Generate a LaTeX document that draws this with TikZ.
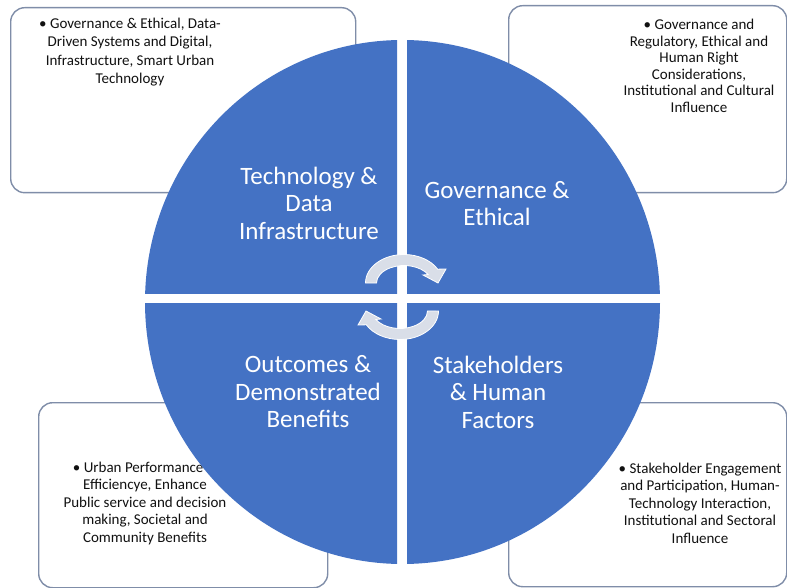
\documentclass[tikz,border=0pt]{standalone}
\usepackage{fontspec}
\setmainfont{Carlito}
\definecolor{quadblue}{HTML}{4472C4}
\definecolor{boxedge}{HTML}{7F8DA8}
\definecolor{boxtext}{HTML}{111111}
\definecolor{arrowfill}{HTML}{D9DEE8}
\begin{document}
\begin{tikzpicture}[x=1pt,y=-1pt,
  infobox/.style={draw=boxedge, line width=1.4pt, fill=white, rounded corners=14pt, anchor=north west, inner sep=0pt},
  infotext/.style={align=center, text=boxtext, font=\fontsize{15}{17.5}\selectfont, inner sep=0pt},
  quadtext/.style={align=center, text=white, font=\fontsize{25}{27.5}\selectfont, inner sep=0pt},
  quadfill/.style={fill=quadblue},
  cyclearrow/.style={fill=arrowfill, draw=white, line width=0.8pt}]
\useasboundingbox (0,0) rectangle (787,588);
% boxes
\node[infobox, minimum width=345pt, minimum height=185pt] (tlbox) at (10,7) {};
\node[infobox, minimum width=278pt, minimum height=187pt] (trbox) at (508,5) {};
\node[infobox, minimum width=289pt, minimum height=185pt] (blbox) at (38,402) {};
\node[infobox, minimum width=278pt, minimum height=184pt] (brbox) at (508,402) {};
% box texts
\node[infotext, font=\fontsize{15}{18.3}\selectfont] (tltext) at (130,52) {• Governance \& Ethical, Data-\\Driven Systems and Digital,\\Infrastructure, Smart Urban\\Technology};
\node[infotext, font=\fontsize{15}{16.5}\selectfont] (trtext) at (699,66) {• Governance and\\Regulatory, Ethical and\\Human Right\\Considerations,\\Institutional and Cultural\\Influence};
\node[infotext] (bltext) at (145,503) {• Urban Performance \&\\Efficiencye, Enhance\\Public service and decision\\making, Societal and\\Community Benefits};
\node[infotext] (brtext) at (700,503) {• Stakeholder Engagement\\and Participation, Human-\\Technology Interaction,\\Institutional and Sectoral\\Influence};
% quadrants
\coordinate (ctr) at (402.5,302);
\begin{scope}
  \clip (0,0) rectangle (397,293);
  \fill[quadfill] (ctr) ellipse [x radius=257.5, y radius=262];
\end{scope}
\begin{scope}
  \clip (407,0) rectangle (787,293);
  \fill[quadfill] (ctr) ellipse [x radius=257.5, y radius=262];
\end{scope}
\begin{scope}
  \clip (0,303) rectangle (397,588);
  \fill[quadfill] (ctr) ellipse [x radius=257.5, y radius=262];
\end{scope}
\begin{scope}
  \clip (407,303) rectangle (787,588);
  \fill[quadfill] (ctr) ellipse [x radius=257.5, y radius=262];
\end{scope}
% quadrant texts
\node[quadtext] (tech) at (309,203) {Technology \&\\Data\\Infrastructure};
\node[quadtext] (gov) at (497,203.5) {Governance \&\\Ethical};
\node[quadtext] (out) at (308,392) {Outcomes \&\\Demonstrated\\Benefits};
\node[quadtext] (stake) at (498,392) {Stakeholders\\\& Human\\Factors};
% cycle arrows
\coordinate (topc) at (404,283);
\coordinate (botc) at (400,311);
\fill[cyclearrow, shift={(topc)}] (-38.5,0)
  arc[start angle=180, end angle=331, x radius=38.5, y radius=28.5]
  -- (42,-14) -- (34,0) -- (19,-8) -- (24.05,-8.48)
  arc[start angle=331, end angle=180, x radius=27.5, y radius=17.5] -- cycle;
\fill[cyclearrow, shift={(botc)}] (38.5,0)
  arc[start angle=0, end angle=151, x radius=38.5, y radius=28.5]
  -- (-42,14) -- (-34,0) -- (-19,8) -- (-24.05,8.48)
  arc[start angle=151, end angle=0, x radius=27.5, y radius=17.5] -- cycle;
\end{tikzpicture}
\end{document}
